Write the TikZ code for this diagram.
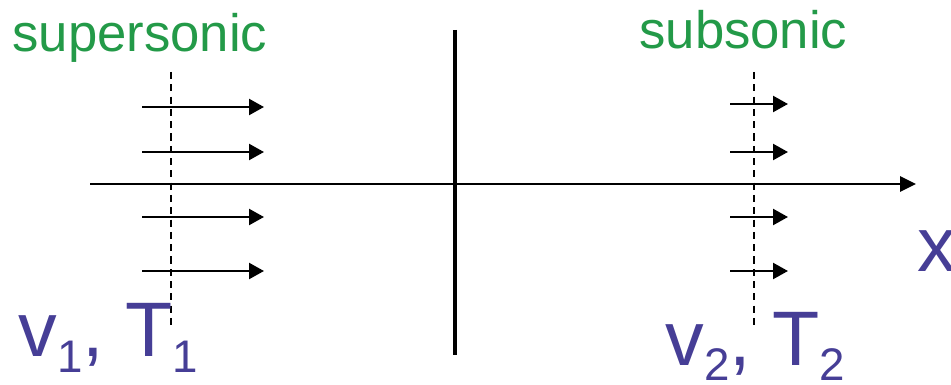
\documentclass[tikz,border=0pt]{standalone}
\usepackage{fontspec}
\setmainfont{Liberation Sans}
\usetikzlibrary{arrows.meta, positioning}
\definecolor{regimegreen}{HTML}{239A48}
\definecolor{statepurple}{HTML}{463E96}
\newcommand{\lowsub}[1]{\raisebox{-9pt}{\fontsize{26pt}{26pt}\selectfont #1}}
\tikzset{
  regime/.style={font=\fontsize{30pt}{30pt}\selectfont, text=regimegreen,
                 inner sep=0pt, anchor=base west},
  state/.style={font=\fontsize{44pt}{44pt}\selectfont, text=statepurple,
                inner sep=0pt, anchor=base west},
  flow/.style={line width=1.3pt, -{Triangle[length=0.3cm, width=0.32cm]}},
  axisline/.style={line width=1.5pt, -{Triangle[length=0.32cm, width=0.3cm]}},
  shock/.style={line width=2.4pt},
  probe/.style={line width=0.8pt, dash pattern=on 4pt off 3pt},
}

\begin{document}
\begin{tikzpicture}[x=0.02cm, y=-0.02cm]
  \useasboundingbox (0,0) rectangle (951,385);
  % axis and shock front
  \coordinate (axis start) at (90,184);
  \coordinate (axis end) at (916,184);
  \coordinate (shock top) at (455,30);
  \coordinate (shock bot) at (455,355);
  \draw[axisline] (axis start) -- (axis end);
  \draw[shock] (shock top) -- (shock bot);

  % probe planes up- and downstream
  \coordinate (up top) at (171,72);
  \coordinate (up bot) at (171,328);
  \coordinate (down top) at (754,72);
  \coordinate (down bot) at (754,328);
  \draw[probe] (up top) -- (up bot);
  \draw[probe] (down top) -- (down bot);

  % velocity arrows
  \foreach \y in {107,152,217,271}
    \draw[flow] (142,\y) -- (264,\y);
  \foreach \y in {104,152,217,271}
    \draw[flow] (730,\y) -- (788,\y);

  % labels
  \node[regime] (super) at (12,52) {supersonic};
  \node[regime] (sub) at (639,49) {subsonic};
  \node[state] (state1) at (18,357) {v\lowsub{1}, T\lowsub{1}};
  \node[state] (state2) at (665,365) {v\lowsub{2}, T\lowsub{2}};
  \node[state] (xlabel) at (917,272) {x};
\end{tikzpicture}
\end{document}
